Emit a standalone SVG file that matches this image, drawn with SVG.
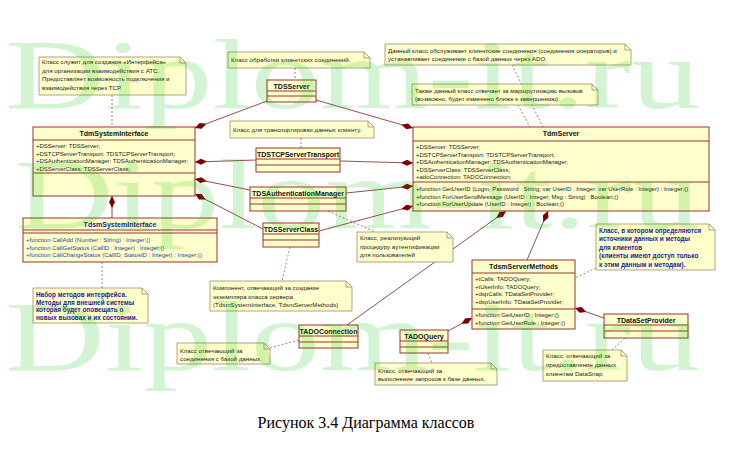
<svg xmlns="http://www.w3.org/2000/svg" width="733" height="460" viewBox="0 0 733 460">
<style>
.cls{fill:#ffffcc;stroke:#993333;stroke-width:1}
.dv{stroke:#993333;stroke-width:1;fill:none}
.note{fill:#ffffcc;stroke:#a08a6a;stroke-width:0.8}
.fold{fill:none;stroke:#a08a6a;stroke-width:0.8}
.t{font-family:"Liberation Sans",Arial,sans-serif;font-size:6px;fill:#222}
.nt{font-family:"Liberation Sans",Arial,sans-serif;font-size:6.2px;fill:#222}
.n{font-family:"Liberation Sans",Arial,sans-serif;font-size:7px;font-weight:bold;fill:#111;text-anchor:middle}
.bn{font-family:"Liberation Sans",Arial,sans-serif;font-size:6.4px;font-weight:bold;fill:#1c1c8c}
.bl{fill:#2a3fa0}
.comp{stroke:#8b3a3a;stroke-width:0.9;fill:none;marker-start:url(#dia)}
.link{stroke:#a07070;stroke-width:0.9;stroke-dasharray:2,2;fill:none}
.wm{font-family:"Liberation Serif",serif;font-size:100px;fill:#00c000;opacity:0.17}
.cap{font-family:"Liberation Serif","Times New Roman",serif;font-size:16px;fill:#000;text-anchor:middle}
</style>
<defs>
<marker id="dia" markerUnits="userSpaceOnUse" markerWidth="14" markerHeight="8" viewBox="0 -4 14 8" refX="0" refY="0" orient="auto">
<path d="M0,0 L6,-3 L12,0 L6,3 Z" fill="#800000"/>
</marker>
</defs>
<rect width="733" height="460" fill="#ffffff"/>

<g id="connectors">
<path class="comp" d="M195,128 L267,101"/>
<path class="comp" d="M413,128 L316,100"/>
<path class="comp" d="M195,162 L256,160"/>
<path class="comp" d="M413,163 L340,161"/>
<path class="comp" d="M195,179 L250,190"/>
<path class="comp" d="M413,186 L346,193"/>
<path class="comp" d="M195,194 L263,229"/>
<path class="comp" d="M413,206 L319,231"/>
<path class="comp" d="M112,196 L112,218"/>
<path class="comp" d="M506,211 L347,325"/>
<path class="comp" d="M548,211 L527,260"/>
<path class="comp" d="M472,318 L448,331"/>
<path class="comp" d="M575,308 L604,318"/>
<path class="link" d="M112,95 L112,127"/>
<path class="link" d="M295,68 L295,80"/>
<path class="link" d="M301,138 L301,148"/>
<path class="link" d="M512,65 L543,127"/>
<path class="link" d="M518,105 L530,127"/>
<path class="link" d="M328,211 L375,232"/>
<path class="link" d="M290,247 L282,281"/>
<path class="link" d="M102,288 L102,262"/>
<path class="link" d="M596,268 L575,278"/>
<path class="link" d="M270,348 L299,340"/>
<path class="link" d="M428,353 L432,363"/>
<path class="link" d="M625,338 L612,350"/>
</g>

<g id="TdmSystemInterface">
<rect class="cls" x="33" y="127" width="162" height="69"/>
<path class="dv" d="M33,140 H195 M33,173 H195"/>
<text class="n" x="114" y="136">TdmSystemInterface</text>
<text class="t" x="36" y="148">+DSServer: TDSServer;</text>
<text class="t" x="36" y="155.5">+DSTCPServerTransport: TDSTCPServerTransport;</text>
<text class="t" x="36" y="163">+DSAuthenticationManager: TDSAuthenticationManager;</text>
<text class="t" x="36" y="170.5">+DSServerClass: TDSServerClass;</text>
</g>

<g id="TdsmSystemInterface">
<rect class="cls" x="23" y="218" width="194" height="44"/>
<path class="dv" d="M23,230 H217 M23,233 H217"/>
<text class="n" x="120" y="227" style="fill:#1a1a90">TdsmSystemInterface</text>
<text class="t bl" x="26" y="242">+function CallAdd (Number : String) : Integer;()</text>
<text class="t bl" x="26" y="249.5">+function CallGetStatus (CallID : Integer) : Integer;()</text>
<text class="t bl" x="26" y="257">+function CallChangeStatus (CallID, StatusID : Integer) : Integer;()</text>
</g>

<g id="TDSServer">
<rect class="cls" x="267" y="80" width="49" height="22"/>
<path class="dv" d="M267,91 H316 M267,96 H316"/>
<text class="n" x="291.5" y="88.5">TDSServer</text>
</g>

<g id="TDSTCPServerTransport">
<rect class="cls" x="256" y="148" width="84" height="24"/>
<path class="dv" d="M256,159 H340 M256,165 H340"/>
<text class="n" x="298" y="156.5">TDSTCPServerTransport</text>
</g>

<g id="TDSAuthenticationManager">
<rect class="cls" x="250" y="187" width="96" height="24"/>
<path class="dv" d="M250,198 H346 M250,204 H346"/>
<text class="n" x="298" y="195.5">TDSAuthenticationManager</text>
</g>

<g id="TDSServerClass">
<rect class="cls" x="263" y="223" width="56" height="24"/>
<path class="dv" d="M263,234 H319 M263,240 H319"/>
<text class="n" x="291" y="231.5">TDSServerClass</text>
</g>

<g id="TADOConnection">
<rect class="cls" x="299" y="325" width="59" height="23"/>
<path class="dv" d="M299,336 H358 M299,342 H358"/>
<text class="n" x="328.5" y="333.5">TADOConnection</text>
</g>

<g id="TADOQuery">
<rect class="cls" x="400" y="330" width="48" height="23"/>
<path class="dv" d="M400,341 H448 M400,347 H448"/>
<text class="n" x="424" y="338.5">TADOQuery</text>
</g>

<g id="TDataSetProvider">
<rect class="cls" x="604" y="314" width="84" height="24"/>
<path class="dv" d="M604,325 H688 M604,331 H688"/>
<text class="n" x="646" y="322.5">TDataSetProvider</text>
</g>

<g id="TdsmServerMethods">
<rect class="cls" x="472" y="260" width="103" height="69"/>
<path class="dv" d="M472,273 H575 M472,309 H575"/>
<text class="n" x="523.5" y="269">TdsmServerMethods</text>
<text class="t" x="475" y="281">+tCalls: TADOQuery;</text>
<text class="t" x="475" y="288.5">+tUserInfo: TADOQuery;</text>
<text class="t" x="475" y="296">+dspCalls: TDataSetProvider;</text>
<text class="t" x="475" y="303.5">+dspUserInfo: TDataSetProvider;</text>
<text class="t" x="475" y="317">+function GetUserID : Integer;()</text>
<text class="t" x="475" y="324.5">+function GetUserRole : Integer;()</text>
</g>

<g id="TdmServer">
<rect class="cls" x="413" y="127" width="296" height="84"/>
<path class="dv" d="M413,141 H709 M413,182 H709"/>
<text class="n" x="561" y="136">TdmServer</text>
<text class="t" x="416" y="149">+DSServer: TDSServer;</text>
<text class="t" x="416" y="156.5">+DSTCPServerTransport: TDSTCPServerTransport;</text>
<text class="t" x="416" y="164">+DSAuthenticationManager: TDSAuthenticationManager;</text>
<text class="t" x="416" y="171.5">+DSServerClass: TDSServerClass;</text>
<text class="t" x="416" y="179">+adoConnection: TADOConnection;</text>
<text class="t" x="416" y="191">+function GetUserID (Login, Password : String; var UserID : Integer; var UserRole : Integer) : Integer;()</text>
<text class="t" x="416" y="198.5">+function ForUserSendMessage (UserID : Integer; Msg : String) : Boolean;()</text>
<text class="t" x="416" y="206">+function ForUserUpdate (UserID : Integer) : Boolean;()</text>
</g>

<g id="note-interface">
<path class="note" d="M39,57 H180 L186,63 V95 H39 Z"/><path class="fold" d="M180,57 V63 H186"/>
<text class="nt" x="42" y="64">Класс служит для создания «Интерфейса»</text>
<text class="nt" x="42" y="72.5">для организации взаимодействия с АТС.</text>
<text class="nt" x="42" y="81">Предоставляет возможность подключения и</text>
<text class="nt" x="42" y="89.5">взаимодействия через TCP.</text>
</g>

<g id="note-dsserver">
<path class="note" d="M228,52 H364 L370,58 V68 H228 Z"/><path class="fold" d="M364,52 V58 H370"/>
<text class="nt" x="231" y="62">Класс обработки клиентских соединений.</text>
</g>

<g id="note-transport">
<path class="note" d="M230,121 H368 L374,127 V138 H230 Z"/><path class="fold" d="M368,121 V127 H374"/>
<text class="nt" x="233" y="131.5">Класс для транспортировки данных клиенту.</text>
</g>

<g id="note-server1">
<path class="note" d="M385,44 H625 L631,50 V65 H385 Z"/><path class="fold" d="M625,44 V50 H631"/>
<text class="nt" x="388" y="52.5">Данный класс обслуживает клиентские соединения (соединения операторов) и</text>
<text class="nt" x="388" y="61">устанавливает соединение с базой данных через ADO.</text>
</g>

<g id="note-server2">
<path class="note" d="M412,84 H592 L598,90 V105 H412 Z"/><path class="fold" d="M592,84 V90 H598"/>
<text class="nt" x="415" y="92.5">Также данный класс отвечает за маршрутизацию вызовов</text>
<text class="nt" x="415" y="101">(возможно, будет изменено ближе к завершению)</text>
</g>

<g id="note-auth">
<path class="note" d="M357,232 H447 L453,238 V262 H357 Z"/><path class="fold" d="M447,232 V238 H453"/>
<text class="nt" x="360" y="240">Класс, реализующий</text>
<text class="nt" x="360" y="248.5">процедуру аутентификации</text>
<text class="nt" x="360" y="257">для пользователей</text>
</g>

<g id="note-component">
<path class="note" d="M210,281 H346 L352,287 V311 H210 Z"/><path class="fold" d="M346,281 V287 H352"/>
<text class="nt" x="213" y="290">Компонент, отвечающий за создание</text>
<text class="nt" x="213" y="298.5">экземпляра класса сервера</text>
<text class="nt" x="213" y="307">(TdsmSystemInterface, TdsmServerMethods)</text>
</g>

<g id="note-methods-interface">
<path class="note" d="M33,288 H142 L148,294 V323 H33 Z"/><path class="fold" d="M142,288 V294 H148"/>
<text class="bn" x="36" y="297">Набор методов интерфейса.</text>
<text class="bn" x="36" y="304.5">Методы для внешней системы</text>
<text class="bn" x="36" y="312">которая будет оповещать о</text>
<text class="bn" x="36" y="319.5">новых вызовах и их состоянии.</text>
</g>

<g id="note-servermethods">
<path class="note" d="M596,224 H709 L715,230 V270 H596 Z"/><path class="fold" d="M709,224 V230 H715"/>
<text class="bn" x="599" y="232.5">Класс, в котором определяются</text>
<text class="bn" x="599" y="241">источники данных и методы</text>
<text class="bn" x="599" y="249.5">для клиентов</text>
<text class="bn" x="599" y="258">(клиенты имеют доступ только</text>
<text class="bn" x="599" y="266.5">к этим данным и методам).</text>
</g>

<g id="note-connection">
<path class="note" d="M177,343 H264 L270,349 V364 H177 Z"/><path class="fold" d="M264,343 V349 H270"/>
<text class="nt" x="180" y="352.5">Класс отвечающий за</text>
<text class="nt" x="180" y="361">соединения с базой данных.</text>
</g>

<g id="note-query">
<path class="note" d="M375,363 H491 L497,369 V385 H375 Z"/><path class="fold" d="M491,363 V369 H497"/>
<text class="nt" x="378" y="372.5">Класс, отвечающий за</text>
<text class="nt" x="378" y="381">выполнение запросов к  базе данных.</text>
</g>

<g id="note-provider">
<path class="note" d="M543,350 H621 L627,356 V381 H543 Z"/><path class="fold" d="M621,350 V356 H627"/>
<text class="nt" x="546" y="357.5">Класс, отвечающий за</text>
<text class="nt" x="546" y="366.5">предоставление данных</text>
<text class="nt" x="546" y="375.5">клиентам DataSnap</text>
</g>

<g id="watermark">
<text class="wm" x="5" y="108" textLength="695" lengthAdjust="spacingAndGlyphs">Diplom-it.ru</text>
<text class="wm" x="15" y="228" textLength="685" lengthAdjust="spacingAndGlyphs">Diplom-it.ru</text>
<text class="wm" x="5" y="370" textLength="695" lengthAdjust="spacingAndGlyphs">Diplom-it.ru</text>
</g>

<text class="cap" x="366" y="428">Рисунок 3.4 Диаграмма классов</text>
</svg>
